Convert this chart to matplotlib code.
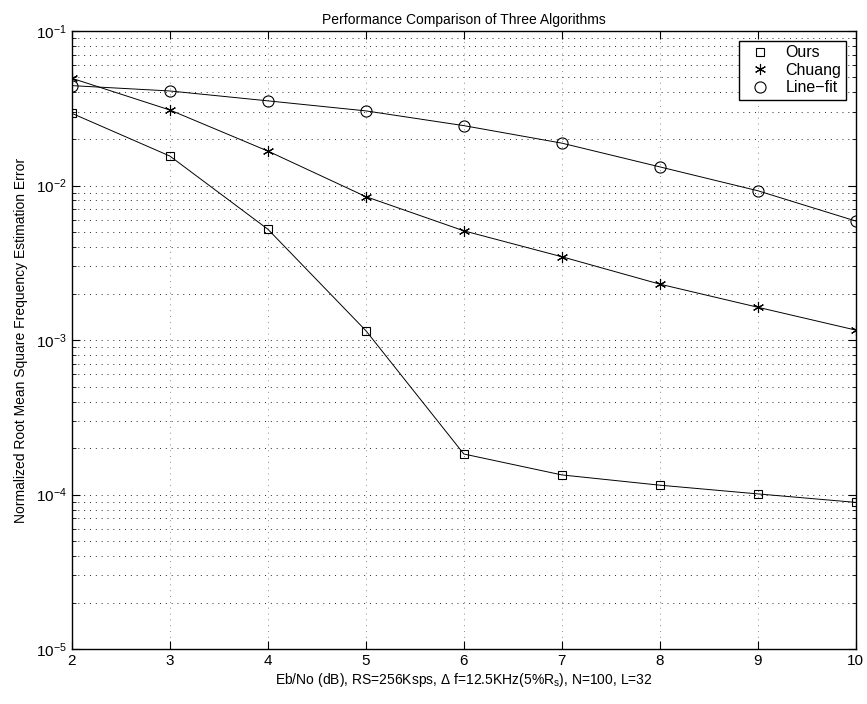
import numpy as np
import matplotlib.pyplot as plt
from matplotlib.ticker import LogLocator, NullFormatter

plt.rcParams['font.family'] = ['Liberation Sans', 'DejaVu Sans']
plt.rcParams['mathtext.fontset'] = 'custom'
plt.rcParams['mathtext.rm'] = 'Liberation Sans'
plt.rcParams['mathtext.it'] = 'Liberation Sans'
plt.rcParams['font.size'] = 10

# Eb/No en dB
ebno = [2, 3, 4, 5, 6, 7, 8, 9, 10]

# error
ours = [2.93e-2, 1.55e-2, 5.21e-3, 1.15e-3, 1.83e-4, 1.34e-4, 1.15e-4, 1.01e-4, 8.9e-5]
chuang = [4.94e-2, 3.08e-2, 1.67e-2, 8.47e-3, 5.09e-3, 3.46e-3, 2.30e-3, 1.63e-3, 1.16e-3]
linefit = [4.43e-2, 4.09e-2, 3.53e-2, 3.04e-2, 2.44e-2, 1.88e-2, 1.32e-2, 9.25e-3, 5.89e-3]

fig = plt.figure(figsize=(8.67, 7.04), dpi=100)
ax = fig.add_axes([0.083, 0.078, 0.904, 0.878])

# lineas sin etiqueta y marcadores con etiqueta (leyenda solo con marcador)
for serie in (ours, chuang, linefit):
    ax.semilogy(ebno, serie, 'k-', lw=0.7, zorder=3)
ax.semilogy(ebno, ours, ls='none', color='k', marker='s', ms=6, mfc='none', mew=0.8, label='Ours', zorder=4)
ax.semilogy(ebno, chuang, ls='none', color='k', marker=(6, 2, 0), ms=8, mew=0.8, label='Chuang', zorder=4)
ax.semilogy(ebno, linefit, ls='none', color='k', marker='o', ms=8, mfc='none', mew=0.8, label='Line\u2212fit', zorder=4)

ax.set_xlim(2, 10)
ax.set_ylim(1e-5, 1e-1)
ax.set_xticks(ebno)
ax.yaxis.set_major_locator(LogLocator(base=10, numticks=10))
ax.yaxis.set_minor_locator(LogLocator(base=10, subs=np.arange(2, 10), numticks=10))
ax.yaxis.set_minor_formatter(NullFormatter())

dots = (0, (1, 5))
ax.grid(True, which='major', axis='y', color='0.15', ls=dots, lw=0.7)
ax.grid(True, which='minor', axis='y', color='0.15', ls=dots, lw=0.7)
ax.grid(True, which='major', axis='x', color='0.55', ls=dots, lw=0.7)
ax.tick_params(which='both', direction='in', top=True, right=True, labelsize=11)
ax.tick_params(which='major', length=6)
ax.tick_params(which='minor', length=3)
for s in ax.spines.values():
    s.set_linewidth(1.0)

ax.set_title('Performance Comparison of Three Algorithms', fontsize=10, pad=5)
ax.set_xlabel(r'Eb/No (dB), RS=256Ksps, $\Delta$ f=12.5KHz(5%R$_\mathrm{s}$), N=100, L=32', fontsize=10, labelpad=2)
ax.set_ylabel('Normalized Root Mean Square Frequency Estimation Error', fontsize=10, labelpad=6)

leg = ax.legend(loc='upper right', fancybox=False, edgecolor='k', framealpha=1,
                fontsize=11.5, borderaxespad=0.6, handlelength=2.0, handletextpad=0.6,
                labelspacing=0.15, borderpad=0.3)
leg.get_frame().set_linewidth(1.0)

fig.savefig('out.png', dpi=100)
